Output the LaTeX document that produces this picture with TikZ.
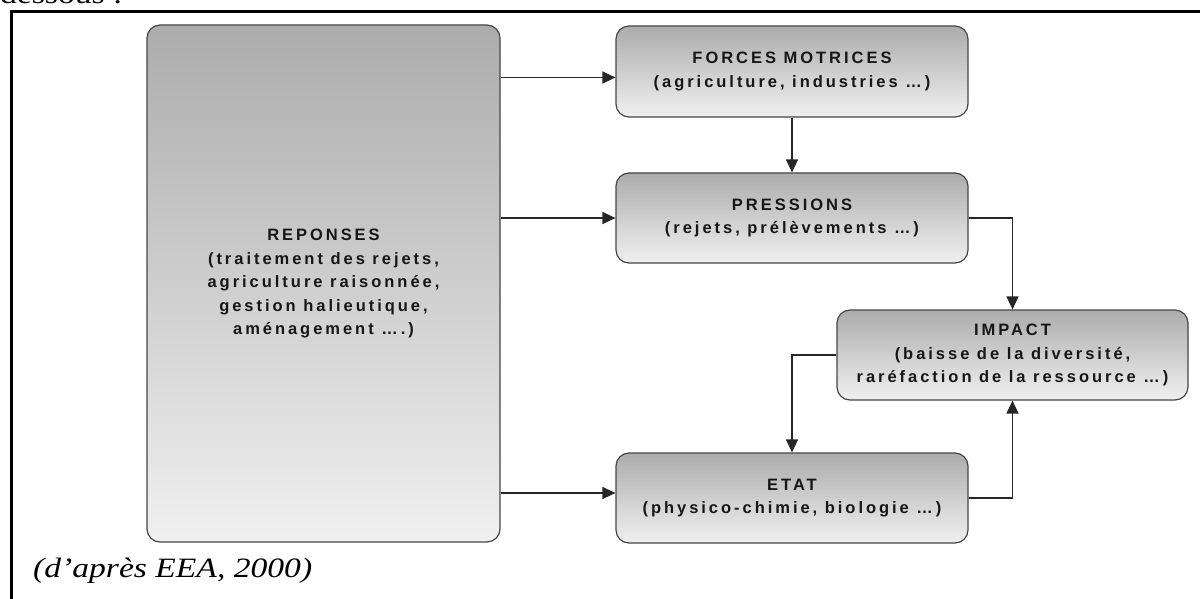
\documentclass[tikz,border=0pt]{standalone}
\usepackage{fontspec}
\setmainfont{Liberation Serif}
\newfontfamily\capfont[FakeStretch=1.2]{Liberation Serif}
\newfontfamily\boxfont[LetterSpace=18]{Liberation Sans}
\usetikzlibrary{arrows.meta,calc}
\definecolor{topgray}{RGB}{172,172,172}
\definecolor{botgray}{RGB}{240,240,240}
\definecolor{edgegray}{RGB}{70,70,70}
\definecolor{txtgray}{RGB}{22,22,22}
\begin{document}
\begin{tikzpicture}[x=1pt,y=-1pt,
  box/.style={draw=edgegray, line width=1.2pt, rounded corners=13pt,
    top color=topgray, bottom color=botgray, align=center, inner sep=0pt,
    font=\boxfont\bfseries\fontsize{16.5}{23.5}\selectfont, text=txtgray},
  conn/.style={line width=1.3pt, draw=black!85, -{Triangle[length=13pt,width=12pt]}}]
\useasboundingbox (0,0) rectangle (1200,599);
\fill[white] (0,0) rectangle (1200,599);
\node[anchor=base west, inner sep=0pt, font=\capfont\fontsize{28}{28}\selectfont] (dess) at (0,4) {dessous :};
\draw[line width=3pt] (11.5,11.5) rectangle (1250,650);

\node[box, minimum width=353pt, minimum height=517pt] (rep) at (323.5,283.5)
  {REPONSES\\(traitement des rejets,\\agriculture raisonnée,\\gestion halieutique,\\aménagement ….)};
\node[box, minimum width=352pt, minimum height=91pt] (fm) at (792,71.5)
  {FORCES MOTRICES\\(agriculture, industries …)};
\node[box, minimum width=352pt, minimum height=90pt] (pr) at (792,218)
  {PRESSIONS\\(rejets, prélèvements …)};
\node[box, minimum width=351pt, minimum height=90pt] (im) at (1012.5,355)
  {IMPACT\\(baisse de la diversité,\\raréfaction de la ressource …)};
\node[box, minimum width=352pt, minimum height=90pt] (et) at (792,498)
  {ETAT\\(physico-chimie, biologie …)};

\draw[conn] ($(rep.east |- fm.west)+(0,6)$) -- ($(fm.west)+(0,6)$);
\draw[conn] (rep.east |- pr.west) -- (pr.west);
\draw[conn] ($(rep.east |- et.west)+(0,-5)$) -- ($(et.west)+(0,-5)$);
\draw[conn] (fm.south) -- (pr.north);
\draw[conn] (pr.east) -| (im.north);
\draw[conn] (im.west) -| (et.north);
\draw[conn] (et.east) -| (im.south);

\node[anchor=base west, inner sep=0pt, font=\capfont\itshape\fontsize{28}{28}\selectfont] (src) at (33,577) {(d’après EEA, 2000)};
\end{tikzpicture}
\end{document}
